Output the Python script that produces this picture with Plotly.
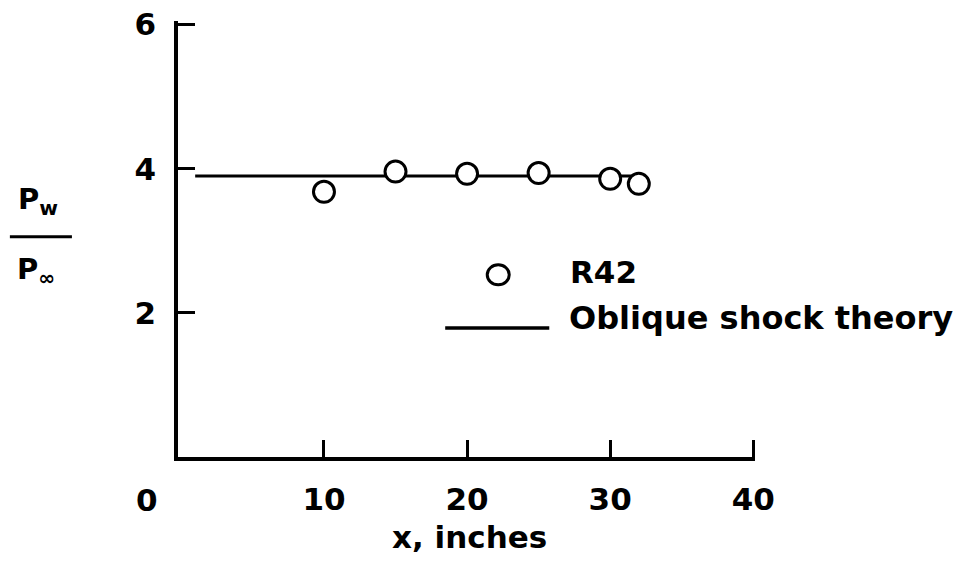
import plotly.graph_objects as go

# Data
r42_x = [10, 15, 20, 25, 30, 32]
r42_y = [3.68, 3.96, 3.93, 3.94, 3.86, 3.79]
theory_x = [1, 32]
theory_y = [3.9, 3.9]
x_ticks = [10, 20, 30, 40]
y_ticks = [2, 4, 6]

FONT = dict(family="DejaVu Sans, Liberation Sans, sans-serif", size=31, color="black", weight="bold")

W, H = 970, 579
OFF = 8  # page offset of the plot div
X_RANGE = [-0.2, 40.12]
Y_RANGE = [0, 6.05]
# axis scale in screenshot pixels
LEFT_PX, BOTTOM_PX = 178, 457
XS, YS = 14.3, 72.0
RIGHT_PX = LEFT_PX + (X_RANGE[1] - X_RANGE[0]) * XS
TOP_PX = BOTTOM_PX - (Y_RANGE[1] - Y_RANGE[0]) * YS
L, T = LEFT_PX - OFF, TOP_PX - OFF
R = W - (RIGHT_PX - OFF)
B = H - (BOTTOM_PX - OFF)
PW, PH = RIGHT_PX - LEFT_PX, BOTTOM_PX - TOP_PX


def px(xp):
    return (xp - LEFT_PX) / PW


def py(yp):
    return (BOTTOM_PX - yp) / PH


fig = go.Figure()
fig.add_trace(go.Scatter(x=theory_x, y=theory_y, mode="lines",
                         line=dict(color="black", width=3), showlegend=False))
fig.add_trace(go.Scatter(x=r42_x, y=r42_y, mode="markers", cliponaxis=False,
                         marker=dict(symbol="circle", size=21, color="white",
                                     line=dict(color="black", width=3)),
                         showlegend=False))

axis_common = dict(showline=True, linewidth=3.5, linecolor="black", mirror=False,
                   ticks="inside", ticklen=17, tickwidth=3, tickcolor="black",
                   showgrid=False, zeroline=False, tickfont=FONT, automargin=False,
                   ticklabeloverflow="allow")

fig.update_layout(
    width=W, height=H,
    margin=dict(l=L, r=R, t=T, b=B),
    paper_bgcolor="white", plot_bgcolor="white",
    xaxis=dict(range=X_RANGE, tickvals=x_ticks, ticktext=[str(v) for v in x_ticks],
               ticklabelstandoff=12, **axis_common),
    yaxis=dict(range=Y_RANGE, tickvals=y_ticks, ticktext=[str(v) for v in y_ticks],
               ticklabelstandoff=12, **axis_common),
)

annotations = [
    dict(text="x, inches", xref="paper", x=px(469), yref="paper", y=py(537),
         showarrow=False, font=FONT, xanchor="center", yanchor="middle"),
    dict(text="0", xref="x", x=0, yref="paper", y=py(500), xshift=-34,
         showarrow=False, font=FONT, xanchor="center", yanchor="middle"),
    dict(text="P<sub>w</sub>", xref="paper", x=px(38), yref="paper", y=py(201),
         showarrow=False, font=dict(FONT, size=29), xanchor="center", yanchor="middle"),
    dict(text="P<sub>∞</sub>", xref="paper", x=px(36), yref="paper", y=py(271),
         showarrow=False, font=dict(FONT, size=29), xanchor="center", yanchor="middle"),
    dict(text="R42", xref="paper", x=px(568), yref="paper", y=py(272),
         showarrow=False, font=FONT, xanchor="left", yanchor="middle"),
    dict(text="Oblique shock theory", xref="paper", x=px(567), yref="paper", y=py(318),
         showarrow=False, font=dict(FONT, size=32), xanchor="left", yanchor="middle"),
]
shapes = [
    dict(type="line", xref="paper", yref="paper", x0=px(10), x1=px(72), y0=py(237), y1=py(237),
         line=dict(color="black", width=3)),
    dict(type="circle", xref="paper", yref="paper", x0=px(487), x1=px(509), y0=py(285), y1=py(265),
         line=dict(color="black", width=3), fillcolor="white"),
    dict(type="line", xref="paper", yref="paper", x0=px(445), x1=px(549), y0=py(328), y1=py(328),
         line=dict(color="black", width=3.5)),
]
fig.update_layout(annotations=annotations, shapes=shapes)

fig.write_html("out.html")
